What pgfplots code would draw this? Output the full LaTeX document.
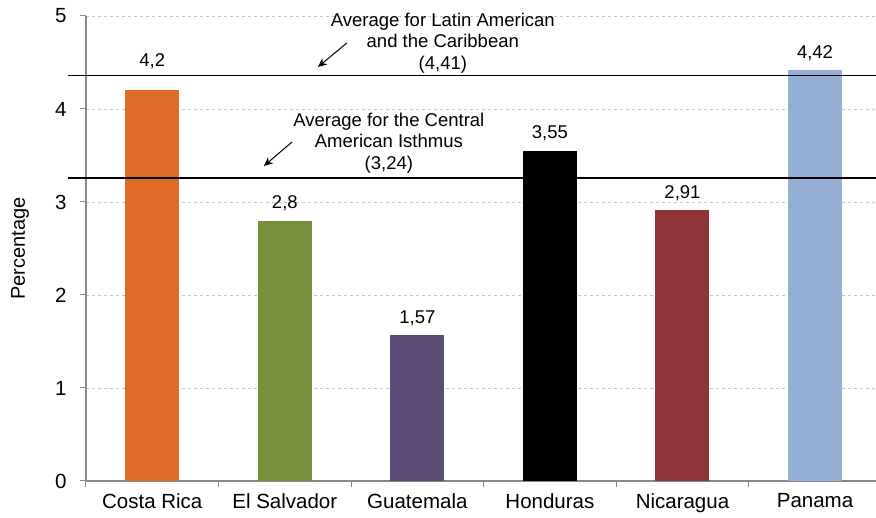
\documentclass[border=0pt]{standalone}
\usepackage{pgfplots}
\pgfplotsset{compat=1.18}
\usepackage{fontspec}
\setmainfont{Liberation Sans}
\usetikzlibrary{arrows.meta}
\definecolor{cCR}{HTML}{DD6C29}
\definecolor{cES}{HTML}{77913B}
\definecolor{cGU}{HTML}{5C4A77}
\definecolor{cHO}{HTML}{000000}
\definecolor{cNI}{HTML}{8E3637}
\definecolor{cPA}{HTML}{94AFD3}
\definecolor{axgray}{HTML}{888888}
\begin{document}
\begin{tikzpicture}
\begin{axis}[
  scale only axis, width=790pt, height=465pt,
  xmin=-0.5, xmax=5.46, ymin=0, ymax=5,
  clip=false,
  axis x line*=bottom, axis y line*=left,
  axis line style={draw=axgray, line width=1.3pt},
  xtick={0,1,2,3,4,5},
  xticklabels={Costa Rica,El Salvador,Guatemala,Honduras,Nicaragua,Panama},
  minor xtick={-0.5,0.5,1.5,2.5,3.5,4.5},
  major x tick style={draw=none},
  minor x tick style={draw=axgray, line width=1pt},
  ytick={0,1,2,3,4,5},
  ytick style={draw=axgray, line width=1pt},
  tick align=outside,
  major tick length=6pt, minor tick length=6pt,
  ymajorgrids,
  grid style={dashed, draw=gray!45, line width=0.6pt},
  tick label style={font=\fontsize{20.5}{24}\selectfont},
  xticklabel style={yshift=-3pt},
  yticklabel style={xshift=-10pt},
  ylabel={Percentage},
  ylabel style={at={(axis description cs:-0.0835,0.5)}, anchor=center, font=\fontsize{20}{24}\selectfont},
  every node near coord/.append style={font=\fontsize{18.5}{22}\selectfont, yshift=6pt},
  /pgf/number format/use comma,
  /pgf/number format/assume math mode=true,
]
\addplot[ybar, bar width=54pt, bar shift=0pt, fill=cCR, draw=none, nodes near coords,
  every node near coord/.append style={yshift=12pt}] coordinates {(0,4.2)};
\addplot[ybar, bar width=54pt, bar shift=0pt, fill=cES, draw=none, nodes near coords] coordinates {(1,2.8)};
\addplot[ybar, bar width=54pt, bar shift=0pt, fill=cGU, draw=none, nodes near coords] coordinates {(2,1.57)};
\addplot[ybar, bar width=54pt, bar shift=0pt, fill=cHO, draw=none, nodes near coords] coordinates {(3,3.55)};
\addplot[ybar, bar width=54pt, bar shift=0pt, fill=cNI, draw=none, nodes near coords] coordinates {(4,2.91)};
\addplot[ybar, bar width=54pt, bar shift=0pt, fill=cPA, draw=none, nodes near coords] coordinates {(5,4.42)};
% average lines
\addplot[black, line width=1.8pt, mark=none] coordinates {(-0.636,4.36) (5.46,4.36)};
\addplot[black, line width=1.8pt, mark=none] coordinates {(-0.636,3.26) (5.46,3.26)};
\node[align=center, font=\fontsize{18.5}{21.5}\selectfont] at (axis cs:2.192,4.71)
  {Average for Latin American\\and the Caribbean\\(4,41)};
\node[align=center, font=\fontsize{18.5}{21.5}\selectfont] at (axis cs:1.785,3.634)
  {Average for the Central\\American Isthmus\\(3,24)};
\draw[-{Stealth[length=9pt,width=8pt]}, line width=1pt] (axis cs:1.468,4.71) -- (axis cs:1.250,4.452);
\draw[-{Stealth[length=9pt,width=8pt]}, line width=1pt] (axis cs:1.054,3.645) -- (axis cs:0.842,3.387);
\coordinate (bl) at (rel axis cs:0,0);
\coordinate (tr) at (rel axis cs:1,1);
\end{axis}
\pgfresetboundingbox
\path[use as bounding box] ([shift={(-86pt,-37pt)}]bl) rectangle ([shift={(0pt,16pt)}]tr);
\end{tikzpicture}
\end{document}
